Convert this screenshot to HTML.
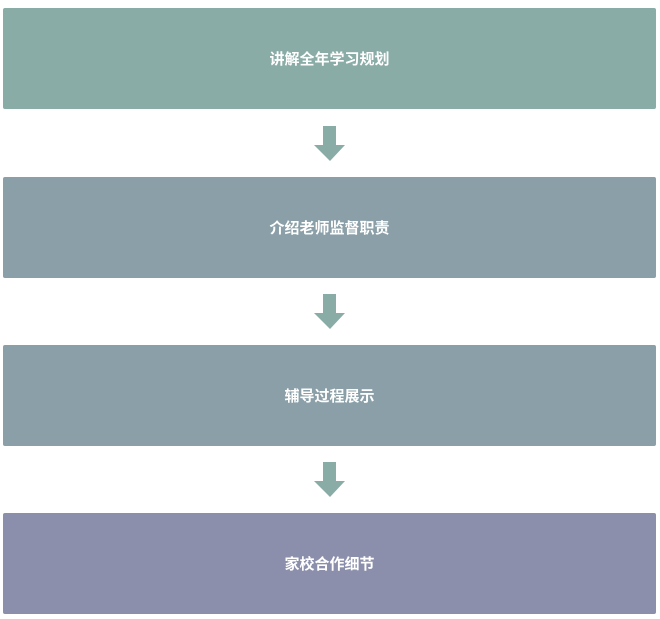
<!DOCTYPE html>
<html><head><meta charset="utf-8"><style>
body{margin:0;width:660px;height:619px;background:#fff;position:relative;overflow:hidden;font-family:"Liberation Sans","Noto Sans CJK SC",sans-serif}
.b{position:absolute;left:3px;width:653px;height:101px;color:#fff;font-weight:bold;font-size:15px;display:flex;align-items:center;justify-content:center;border-radius:2px}
svg{position:absolute;left:0;top:0}
</style></head><body>
<div class="b" style="top:8px;background:#8aaca6">讲解全年学习规划</div>
<div class="b" style="top:177px;background:#8a9fa8">介绍老师监督职责</div>
<div class="b" style="top:345px;background:#8a9fa8">辅导过程展示</div>
<div class="b" style="top:513px;background:#8b8fab">家校合作细节</div>
<svg width="660" height="619">
<g fill="#8aaca6">
<polygon points="323,126 336,126 336,145 345,145 330,161 314,145 323,145"/>
<polygon points="323,294 336,294 336,313 345,313 330,329 314,313 323,313"/>
<polygon points="323,462 336,462 336,481 345,481 330,497 314,481 323,481"/>
</g></svg>
</body></html>
